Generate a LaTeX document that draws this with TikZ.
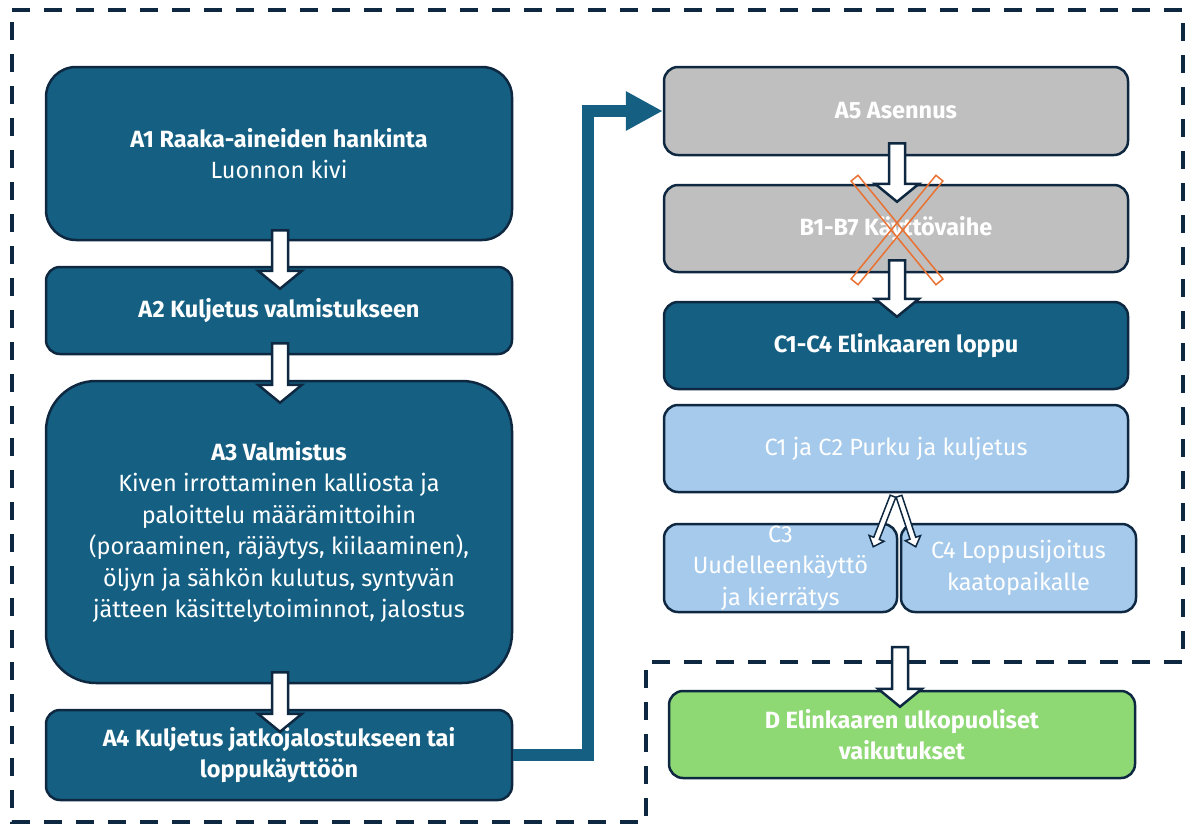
\documentclass[tikz,border=0pt]{standalone}
\usepackage{fontspec}
\setmainfont{Fira Sans}
\usetikzlibrary{calc,arrows.meta}
\definecolor{navy}{HTML}{0E2841}
\definecolor{stoneblue}{HTML}{156082}
\definecolor{usegray}{HTML}{BFBFBF}
\definecolor{endblue}{HTML}{A6CAEC}
\definecolor{extgreen}{HTML}{8ED973}
\definecolor{crossorange}{HTML}{E97132}
\newcommand{\blockarrow}[6]{%
  \path coordinate (ba0) at (#1) coordinate (ba1) at (#2) coordinate (bah) at ($(ba1)!#5!(ba0)$);
  \draw[hollow,line width=#6]
    ($(ba0)!#3!90:(ba1)$) -- ($(bah)!#3!-90:(ba0)$) -- ($(bah)!#4!-90:(ba0)$) -- (ba1)
    -- ($(bah)!#4!90:(ba0)$) -- ($(bah)!#3!90:(ba0)$) -- ($(ba0)!#3!-90:(ba1)$) -- cycle;}
\begin{document}
\begin{tikzpicture}[x=1pt,y=-1pt,
  stage/.style={draw=navy,line width=2.5pt,rounded corners=14pt,text=white,align=center,
    font=\fontsize{23.5}{31.5}\selectfont,minimum width=466pt,minimum height=87pt,inner sep=0pt},
  hollow/.style={draw=navy,fill=white,line join=miter},
  xbar/.style={draw=crossorange,line width=1.5pt,minimum width=134pt,minimum height=9pt,inner sep=0pt},
  elbow/.style={draw=stoneblue,line width=12pt,-{Triangle[length=37pt,width=37pt]}},
  frame/.style={draw=navy,line width=4pt,dash pattern=on 18pt off 14pt}]
\useasboundingbox (0,0) rectangle (1186,825);
\draw[frame] (12,10) -- (1183,10) -- (1183,662) -- (646,662) -- (646,822) -- (12,822) -- cycle;
\node[stage,fill=stoneblue,minimum height=173pt,rounded corners=30pt] (a1) at (279,153.5)
  {\textbf{A1 Raaka-aineiden hankinta}\\Luonnon kivi};
\node[stage,fill=stoneblue] (a2) at (279,310.5) {\textbf{A2 Kuljetus valmistukseen}};
\node[stage,fill=stoneblue,minimum height=302pt,rounded corners=50pt] (a3) at (279,532)
  {\textbf{A3 Valmistus}\\Kiven irrottaminen kalliosta ja\\paloittelu määrämittoihin\\
   (poraaminen, räjäytys, kiilaaminen),\\öljyn ja sähkön kulutus, syntyvän\\jätteen käsittelytoiminnot, jalostus};
\node[stage,fill=stoneblue,minimum height=90pt] (a4) at (279,755)
  {\textbf{A4 Kuljetus jatkojalostukseen tai}\\\textbf{loppukäyttöön}};
\node[stage,fill=usegray,minimum width=464pt,minimum height=88pt] (a5) at (896,111) {\textbf{A5 Asennus}};
\draw[elbow] (a4.east) -- ++(75,0) |- (a5.west);
\node[stage,fill=usegray,minimum width=464pt] (b) at (896,228.5) {\textbf{B1-B7 Käyttövaihe}};
\node[stage,fill=stoneblue,minimum width=464pt] (c) at (896,345.5) {\textbf{C1-C4 Elinkaaren loppu}};
\node[stage,fill=endblue,minimum width=464pt] (c12) at (896,448.5) {C1 ja C2 Purku ja kuljetus};
\node[stage,fill=endblue,minimum width=233pt,minimum height=88pt] (c3) at (780.5,568)
  {C3\\Uudelleenkäyttö\\ja kierrätys};
\node[stage,fill=endblue,minimum width=235pt,minimum height=88pt] (c4) at (1018.5,568)
  {C4 Loppusijoitus\\kaatopaikalle};
\node[stage,fill=extgreen] (d) at (902,734.5) {\textbf{D Elinkaaren ulkopuoliset}\\\textbf{vaikutukset}};
\coordinate (dsrc) at (900,647);
\blockarrow{$(a1.south)+(1,-11)$}{$(a2.north)+(1,23)$}{8pt}{22pt}{18pt}{2.5pt}
\blockarrow{$(a2.south)+(1,-12)$}{$(a3.north)+(1,23)$}{8pt}{22pt}{18pt}{2.5pt}
\blockarrow{$(a3.south)+(1,-12)$}{$(a4.north)+(1,23)$}{8pt}{22pt}{18pt}{2.5pt}
\blockarrow{$(a5.south)+(1,-13)$}{$(b.north)+(1,18)$}{8pt}{22pt}{18pt}{2.5pt}
\blockarrow{$(b.south)+(1,-13)$}{$(c.north)+(1,16)$}{8pt}{22pt}{18pt}{2.5pt}
\blockarrow{$(c12.south)+(-3,3)$}{$(c3.north east)+(-25,24)$}{3pt}{8pt}{9pt}{1.5pt}
\blockarrow{$(c12.south)+(3,3)$}{$(c4.north west)+(16,24)$}{3pt}{8pt}{9pt}{1.5pt}
\blockarrow{dsrc}{$(d.north)+(-2,17)$}{8pt}{22pt}{18pt}{2.5pt}
\node[xbar,rotate=50.7] (cross1) at (897,230) {};
\node[xbar,rotate=-50.7] (cross2) at (897,230) {};
\end{tikzpicture}
\end{document}
